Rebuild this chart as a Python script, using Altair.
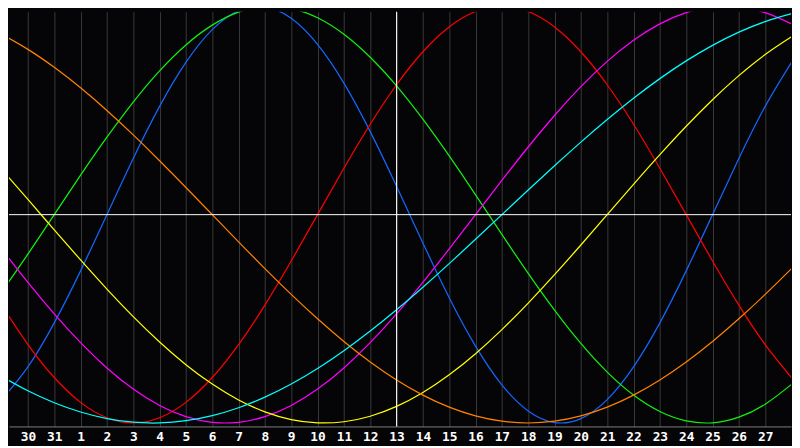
import altair as alt
import pandas as pd

# x position index k = 0..30 (one per day); label for each index
day_labels = ["29", "30", "31"] + [str(n) for n in range(1, 29)]
k_index = list(range(31))

# values in percent (-100..100), one per day
physical = [-88.79, -73.08, -51.96, -26.98, 0, 26.98, 51.96, 73.08, 88.79, 97.91, 99.77,
            94.23, 81.70, 63.11, 39.84, 13.62, -13.62, -39.84, -63.11, -81.70, -94.23,
            -99.77, -97.91, -88.79, -73.08, -51.96, -26.98, 0, 26.98, 51.96, 73.08]
emotional = [-43.39, -62.35, -78.18, -90.10, -97.49, -100, -97.49, -90.10, -78.18, -62.35,
             -43.39, -22.25, 0, 22.25, 43.39, 62.35, 78.18, 90.10, 97.49, 100, 97.49,
             90.10, 78.18, 62.35, 43.39, 22.25, 0, -22.25, -43.39, -62.35, -78.18]
intellectual = [-37.17, -18.93, 0, 18.93, 37.17, 54.06, 69.01, 81.46, 90.96, 97.18, 99.89,
                98.98, 94.50, 86.60, 75.57, 61.82, 45.82, 28.17, 9.51, -9.51, -28.17,
                -45.82, -61.82, -75.57, -86.60, -94.50, -98.98, -99.89, -97.18, -90.96, -81.46]
intuitive = [-16.46, -32.47, -47.60, -61.42, -73.57, -83.72, -91.58, -96.94, -99.66, -99.66,
             -96.94, -91.58, -83.72, -73.57, -61.42, -47.60, -32.47, -16.46, 0, 16.46,
             32.47, 47.60, 61.42, 73.57, 83.72, 91.58, 96.94, 99.66, 99.66, 96.94, 91.58]
aesthetic = [21.74, 7.30, -7.30, -21.74, -35.72, -48.94, -61.12, -72.00, -81.33, -88.93,
             -94.64, -98.34, -99.93, -99.40, -96.75, -92.03, -85.34, -76.85, -66.72, -55.18,
             -42.45, -28.81, -14.56, 0, 14.56, 28.81, 42.45, 55.18, 66.72, 76.85, 85.34]
awareness = [86.60, 79.34, 70.71, 60.88, 50.00, 38.27, 25.88, 13.05, 0, -13.05, -25.88,
             -38.27, -50.00, -60.88, -70.71, -79.34, -86.60, -92.39, -96.59, -99.14, -100,
             -99.14, -96.59, -92.39, -86.60, -79.34, -70.71, -60.88, -50.00, -38.27, -25.88]
spiritual = [-77.62, -84.55, -90.28, -94.73, -97.86, -99.61, -99.96, -98.90, -96.47, -92.67,
             -87.58, -81.26, -73.81, -65.29, -55.87, -45.66, -34.82, -23.49, -11.83, 0,
             11.83, 23.49, 34.82, 45.66, 55.87, 65.29, 73.81, 81.26, 87.58, 92.67, 96.47]

series = [
    ("physical", physical, "#1466ff"),
    ("emotional", emotional, "#ff0000"),
    ("intellectual", intellectual, "#10f010"),
    ("intuitive", intuitive, "#ff00ff"),
    ("aesthetic", aesthetic, "#ffff00"),
    ("awareness", awareness, "#ff8000"),
    ("spiritual", spiritual, "#00ffff"),
]

label_expr = "[" + ",".join("'%s'" % s for s in day_labels) + "][datum.value]"

x_scale = alt.Scale(domain=[0.281, 29.981], nice=False, zero=False)
y_scale = alt.Scale(domain=[-101.66, 97.39], nice=False, zero=False)

x_axis = alt.Axis(
    values=list(range(1, 30)),
    labelExpr=label_expr,
    grid=True,
    gridColor="#3a3a3a",
    gridWidth=1,
    tickSize=0,
    domainColor="#808080",
    labelColor="#ffffff",
    labelFont="DejaVu Sans Mono",
    labelFontWeight="bold",
    labelFontSize=13,
    labelPadding=4,
    title=None,
)

layers = []
for name, vals, col in series:
    df = pd.DataFrame({"k": k_index, "v": vals})
    layers.append(
        alt.Chart(df)
        .mark_line(color=col, strokeWidth=1.25, interpolate="natural", clip=True)
        .encode(
            x=alt.X("k:Q", scale=x_scale, axis=x_axis),
            y=alt.Y("v:Q", scale=y_scale, axis=None),
        )
    )

hrule = alt.Chart(pd.DataFrame({"v": [0]})).mark_rule(color="#ffffff", strokeWidth=1).encode(
    y=alt.Y("v:Q", scale=y_scale, axis=None)
)
vrule = alt.Chart(pd.DataFrame({"k": [15]})).mark_rule(color="#ffffff", strokeWidth=1).encode(
    x=alt.X("k:Q", scale=x_scale, axis=x_axis)
)

chart = (
    alt.layer(*layers, hrule, vrule)
    .properties(width=792, height=420, padding=0, background="#050507")
    .configure_view(stroke=None)
)

chart.save("out.html", embed_options={"renderer": "svg", "actions": False})
